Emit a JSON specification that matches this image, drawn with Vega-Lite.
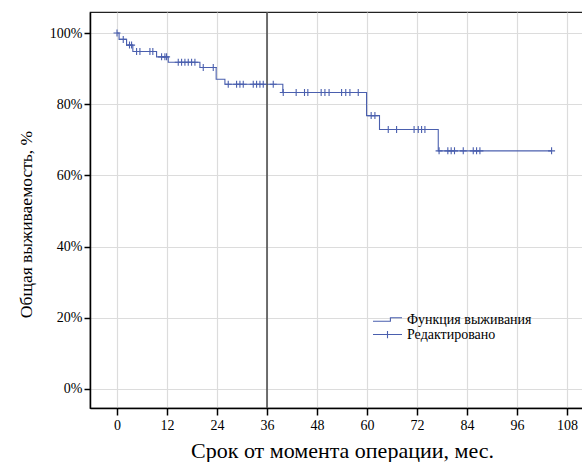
{
  "$schema": "https://vega.github.io/schema/vega-lite/v6.json",
  "autosize": {"type": "none"},
  "padding": {"left": 90, "top": 12, "right": 0, "bottom": 54},
  "width": 495,
  "height": 396,
  "background": "white",
  "config": {
    "view": {"stroke": "#222", "strokeWidth": 1.2},
    "font": "Liberation Serif",
    "axis": {
      "labelFont": "Liberation Serif",
      "titleFont": "Liberation Serif",
      "labelColor": "black",
      "titleColor": "black",
      "titleFontWeight": "normal",
      "domainColor": "black",
      "domainWidth": 1.5,
      "tickColor": "black",
      "tickWidth": 1.5,
      "gridColor": "#dcdcdc",
      "gridWidth": 1.2
    },
    "legend": {
      "labelFont": "Liberation Serif",
      "labelFontSize": 14,
      "labelColor": "black",
      "labelOffset": 4,
      "symbolSize": 841,
      "symbolStrokeWidth": 1.1,
      "symbolFillColor": "transparent",
      "orient": "none",
      "padding": 0
    }
  },
  "datasets": {
    "curve": [
      {"t": 0, "s": 100, "curve_label": "Функция выживания", "censor_label": "Редактировано"},
      {"t": 0.5, "s": 98.2, "curve_label": "Функция выживания", "censor_label": "Редактировано"},
      {"t": 2.3, "s": 96.6, "curve_label": "Функция выживания", "censor_label": "Редактировано"},
      {"t": 3.8, "s": 94.8, "curve_label": "Функция выживания", "censor_label": "Редактировано"},
      {"t": 9.5, "s": 93.3, "curve_label": "Функция выживания", "censor_label": "Редактировано"},
      {"t": 12.3, "s": 91.8, "curve_label": "Функция выживания", "censor_label": "Редактировано"},
      {"t": 19.9, "s": 90.3, "curve_label": "Функция выживания", "censor_label": "Редактировано"},
      {"t": 23.8, "s": 87.0, "curve_label": "Функция выживания", "censor_label": "Редактировано"},
      {"t": 25.9, "s": 85.6, "curve_label": "Функция выживания", "censor_label": "Редактировано"},
      {"t": 39.8, "s": 83.3, "curve_label": "Функция выживания", "censor_label": "Редактировано"},
      {"t": 59.9, "s": 76.8, "curve_label": "Функция выживания", "censor_label": "Редактировано"},
      {"t": 63.0, "s": 72.9, "curve_label": "Функция выживания", "censor_label": "Редактировано"},
      {"t": 77.1, "s": 66.9, "curve_label": "Функция выживания", "censor_label": "Редактировано"},
      {"t": 104.3, "s": 66.9, "curve_label": "Функция выживания", "censor_label": "Редактировано"}
    ],
    "refline": [{"t": 36}],
    "censored": [
      {"t": 0, "s": 100},
      {"t": 1.5, "s": 98.2},
      {"t": 3.0, "s": 96.6},
      {"t": 3.5, "s": 96.6},
      {"t": 4.7, "s": 94.8},
      {"t": 5.5, "s": 94.8},
      {"t": 7.9, "s": 94.8},
      {"t": 8.6, "s": 94.8},
      {"t": 10.7, "s": 93.3},
      {"t": 11.5, "s": 93.3},
      {"t": 11.9, "s": 93.3},
      {"t": 14.7, "s": 91.8},
      {"t": 15.5, "s": 91.8},
      {"t": 16.3, "s": 91.8},
      {"t": 17.1, "s": 91.8},
      {"t": 17.9, "s": 91.8},
      {"t": 18.7, "s": 91.8},
      {"t": 20.7, "s": 90.3},
      {"t": 23.1, "s": 90.3},
      {"t": 26.7, "s": 85.6},
      {"t": 28.7, "s": 85.6},
      {"t": 29.5, "s": 85.6},
      {"t": 30.3, "s": 85.6},
      {"t": 32.7, "s": 85.6},
      {"t": 33.5, "s": 85.6},
      {"t": 34.3, "s": 85.6},
      {"t": 35.1, "s": 85.6},
      {"t": 37.5, "s": 85.6},
      {"t": 39.9, "s": 83.3},
      {"t": 43.0, "s": 83.3},
      {"t": 45.0, "s": 83.3},
      {"t": 45.8, "s": 83.3},
      {"t": 49.0, "s": 83.3},
      {"t": 49.9, "s": 83.3},
      {"t": 50.9, "s": 83.3},
      {"t": 53.9, "s": 83.3},
      {"t": 54.9, "s": 83.3},
      {"t": 55.9, "s": 83.3},
      {"t": 57.9, "s": 83.3},
      {"t": 61.0, "s": 76.8},
      {"t": 61.9, "s": 76.8},
      {"t": 65.1, "s": 72.9},
      {"t": 67.1, "s": 72.9},
      {"t": 71.3, "s": 72.9},
      {"t": 72.3, "s": 72.9},
      {"t": 73.1, "s": 72.9},
      {"t": 73.9, "s": 72.9},
      {"t": 77.3, "s": 66.9},
      {"t": 79.4, "s": 66.9},
      {"t": 80.2, "s": 66.9},
      {"t": 81.0, "s": 66.9},
      {"t": 83.1, "s": 66.9},
      {"t": 85.5, "s": 66.9},
      {"t": 86.3, "s": 66.9},
      {"t": 87.1, "s": 66.9},
      {"t": 104.3, "s": 66.9}
    ]
  },
  "layer": [
    {
      "data": {"name": "curve"},
      "mark": {"type": "line", "interpolate": "step-after", "strokeWidth": 1.1, "color": "#4a5fae"},
      "encoding": {
        "x": {
          "field": "t", "type": "quantitative",
          "scale": {"domain": [-6.48, 112.32], "nice": false, "zero": false},
          "axis": {
            "values": [0, 12, 24, 36, 48, 60, 72, 84, 96, 108],
            "title": "Срок от момента операции, мес.",
            "titleFontSize": 22,
            "titlePadding": 8,
            "titleX": 252,
            "labelFontSize": 14,
            "tickSize": 7,
            "labelPadding": 3,
            "grid": true
          }
        },
        "y": {
          "field": "s", "type": "quantitative",
          "scale": {"domain": [-5.34, 105.9], "nice": false, "zero": false},
          "axis": {
            "values": [0, 20, 40, 60, 80, 100],
            "labelExpr": "datum.value + '%'",
            "title": "Общая выживаемость, %",
            "titleFontSize": 17.5,
            "titlePadding": 14,
            "titleY": 212,
            "labelFontSize": 14,
            "tickSize": 6,
            "labelPadding": 2,
            "grid": true
          }
        },
        "opacity": {
          "field": "curve_label", "type": "nominal",
          "scale": {"domain": ["Функция выживания"], "range": [1]},
          "legend": {
            "title": null,
            "legendX": 282,
            "legendY": 292,
            "symbolType": "M-1,0.12L0.2,0.12L0.2,-0.12L1,-0.12",
            "symbolStrokeColor": "#4a5fae"
          }
        },
        "strokeDash": {
          "field": "censor_label", "type": "nominal",
          "scale": {"domain": ["Редактировано"], "range": [[1, 0]]},
          "legend": {
            "title": null,
            "legendX": 282,
            "legendY": 307,
            "symbolType": "M-1,0L1,0M0,-0.25L0,0.25",
            "symbolStrokeColor": "#4a5fae"
          }
        }
      }
    },
    {
      "data": {"name": "refline"},
      "mark": {"type": "rule", "color": "#444", "strokeWidth": 1.5},
      "encoding": {"x": {"field": "t", "type": "quantitative"}}
    },
    {
      "data": {"name": "censored"},
      "mark": {"type": "point", "filled": false, "strokeWidth": 1.1, "color": "#4a5fae", "size": 49, "opacity": 1, "shape": "M-1,0L1,0M0,-1L0,1"},
      "encoding": {
        "x": {"field": "t", "type": "quantitative"},
        "y": {"field": "s", "type": "quantitative"}
      }
    }
  ]
}
